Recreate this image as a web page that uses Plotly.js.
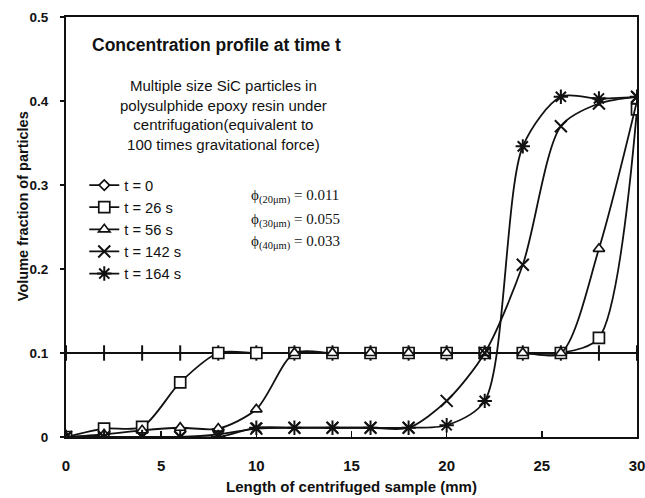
<!DOCTYPE html>
<html>
<head>
<meta charset="utf-8">
<script src="https://cdn.plot.ly/plotly-3.0.1.min.js"></script>
<style>html,body{margin:0;padding:0;background:#fff;}#chart{width:645px;height:498px;}</style>
</head>
<body>
<div id="chart"></div>
<script>
const xPos = [0, 2, 4, 6, 8, 10, 12, 14, 16, 18, 20, 22, 24, 26, 28, 30];
const seriesNames = ['t = 0', 't = 26 s', 't = 56 s', 't = 142 s', 't = 164 s'];
const t0   = [0.1, 0.1, 0.1, 0.1, 0.1, 0.1, 0.1, 0.1, 0.1, 0.1, 0.1, 0.1, 0.1, 0.1, 0.1, 0.1];
const t26  = [0, 0.010, 0.012, 0.065, 0.1, 0.1, 0.1, 0.1, 0.1, 0.1, 0.1, 0.1, 0.1, 0.1, 0.118, 0.39];
const t56  = [0, 0.003, 0.008, 0.011, 0.010, 0.033, 0.1, 0.1, 0.1, 0.1, 0.1, 0.1, 0.1, 0.1, 0.224, 0.40];
const t142 = [0, 0.0, 0.0, 0.0, 0.003, 0.010, 0.011, 0.011, 0.011, 0.011, 0.043, 0.1, 0.205, 0.37, 0.397, 0.405];
const t164 = [0, 0.0, 0.0, 0.0, 0.0, 0.011, 0.011, 0.011, 0.011, 0.011, 0.014, 0.043, 0.346, 0.405, 0.403, 0.405];
const yTicks = [0, 0.1, 0.2, 0.3, 0.4, 0.5];
const yTickText = ['0', '0.1', '0.2', '0.3', '0.4', '0.5'];
const xTicks = [0, 5, 10, 15, 20, 25, 30];
const phiLabels = ['ϕ<sub>(20μm)</sub> = 0.011', 'ϕ<sub>(30μm)</sub> = 0.055', 'ϕ<sub>(40μm)</sub> = 0.033'];

const FONT = 'Liberation Sans, Arial, sans-serif';
const INK = '#111';
function lineStyle() { return {color: INK, width: 1.8, shape: 'spline', smoothing: 0.8}; }

function tr(name, y, marker, extra) {
  return Object.assign({
    type: 'scatter', mode: 'lines+markers', name: name, x: xPos, y: y,
    line: lineStyle(), legendgroup: name, marker: marker
  }, extra || {});
}
const filledWhite = (sym, size) => ({symbol: sym, size: size, color: '#fff', line: {color: INK, width: 1.7}});
const strokeOnly = (sym, size) => ({symbol: sym, size: size, color: INK, line: {color: INK, width: 2}});

const data = [
  {type: 'scatter', mode: 'lines+markers', name: seriesNames[0], x: [null], y: [null], legendgroup: 'g0',
   line: {color: INK, width: 1.8}, marker: filledWhite('diamond', 8)},
  tr(seriesNames[0], t0, strokeOnly('line-ns-open', 11), {showlegend: false, legendgroup: 'g0', line: {color: INK, width: 1.8}}),
  tr(seriesNames[1], t26, filledWhite('square', 11)),
  tr(seriesNames[2], t56, filledWhite('triangle-up', 10)),
  tr(seriesNames[3], t142, strokeOnly('x-thin-open', 12)),
  tr(seriesNames[4], t164, strokeOnly('asterisk-open', 12))
];

const annotations = [
  {xref: 'x', yref: 'y', x: 7.9, y: 0.467, text: '<b>Concentration profile at time t</b>', showarrow: false,
   font: {family: FONT, size: 17.5, color: INK}, xanchor: 'center', yanchor: 'middle'},
  {xref: 'x', yref: 'y', x: 8.25, y: 0.383,
   text: 'Multiple size SiC particles in<br>polysulphide epoxy resin under<br>centrifugation(equivalent to<br>100 times gravitational force)',
   showarrow: false, align: 'center', font: {family: FONT, size: 15, color: INK}, xanchor: 'center', yanchor: 'middle'},
  {xref: 'paper', yref: 'paper', x: -0.075, y: 0.55, text: '<b>Volume fraction of particles</b>', textangle: -90,
   showarrow: false, font: {family: FONT, size: 14.5, color: INK}, xanchor: 'center', yanchor: 'middle'}
];
const phiY = [0.286, 0.258, 0.232];
phiLabels.forEach((t, i) => annotations.push({
  xref: 'x', yref: 'y', x: 9.6, y: phiY[i], text: t, showarrow: false, xanchor: 'left', yanchor: 'middle',
  font: {family: 'Liberation Serif, Times New Roman, serif', size: 15, color: INK}
}));

const layout = {
  width: 645, height: 498,
  margin: {l: 66, r: 8, t: 17, b: 61},
  paper_bgcolor: '#fff', plot_bgcolor: '#fff',
  font: {family: FONT, color: INK},
  showlegend: true,
  legend: {x: 0.032, y: 0.638, xanchor: 'left', yanchor: 'top', bgcolor: 'rgba(0,0,0,0)',
           font: {family: FONT, size: 14.7, color: INK}, traceorder: 'grouped', tracegroupgap: 0, itemwidth: 30},
  xaxis: {range: [0, 30], tickvals: xTicks, ticks: 'inside', ticklen: 6, tickwidth: 1.5, tickcolor: INK,
          showline: true, linecolor: INK, linewidth: 2, mirror: true, showgrid: false, zeroline: false,
          ticklabelstandoff: 14, ticklabeloverflow: 'allow',
          tickfont: {family: FONT, size: 15, color: INK, weight: 'bold'},
          title: {text: '<b>Length of centrifuged sample (mm)</b>', font: {family: FONT, size: 15, color: INK}, standoff: 8}},
  yaxis: {range: [0, 0.5], tickvals: yTicks, ticktext: yTickText, ticks: 'outside', ticklen: 4, tickwidth: 1.5, tickcolor: INK,
          showline: true, linecolor: INK, linewidth: 2, mirror: true, showgrid: false, zeroline: false,
          ticklabelstandoff: 9,
          tickfont: {family: FONT, size: 13.5, color: INK, weight: 'bold'}},
  annotations: annotations
};

Plotly.newPlot('chart', data, layout, {displayModeBar: false, staticPlot: true});
</script>
</body>
</html>
